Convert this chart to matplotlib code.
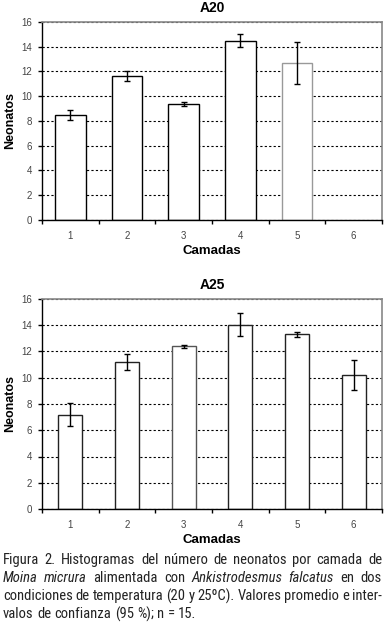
import matplotlib
matplotlib.use("Agg")
import matplotlib.pyplot as plt
from matplotlib import font_manager as fm
import numpy as np

# ---- data ----
camadas = [1, 2, 3, 4, 5, 6]
a20_vals = [8.5, 11.6, 9.35, 14.5, 12.65, 0]
a20_err = [0.42, 0.4, 0.17, 0.53, 1.7, 0]
a25_vals = [7.2, 11.2, 12.4, 14.05, 13.3, 10.2]
a25_err = [0.88, 0.6, 0.12, 0.9, 0.2, 1.13]
titles = ["A20", "A25"]
ylabel = "Neonatos"
xlabel = "Camadas"
yticks = [0, 2, 4, 6, 8, 10, 12, 14, 16]

caption_lines = [
    "Figura 2. Histogramas del número de neonatos por camada de",
    "Moina micrura alimentada con Ankistrodesmus falcatus en dos",
    "condiciones de temperatura (20 y 25ºC). Valores promedio e inter-",
    "valos de confianza (95 %); n = 15.",
]
italic_words = {"Moina", "micrura", "Ankistrodesmus", "falcatus"}

W, H = 384, 625
fig = plt.figure(figsize=(W / 100, H / 100), dpi=100)
plt.rcParams['font.family'] = ['Liberation Sans', 'DejaVu Sans']


def panel(rect, vals, errs, title, width, edgecolors):
    ax = fig.add_axes(rect)
    x = np.array(camadas)
    v = np.array(vals)
    e = np.array(errs)
    m = v > 0
    ax.bar(x[m], v[m], width=width, color='white',
           edgecolor=[c for c, k in zip(edgecolors, m) if k],
           linewidth=1.0, zorder=2)
    ax.errorbar(x[m], v[m], yerr=e[m], fmt='none',
                ecolor='black', elinewidth=1.0, capsize=2.2, capthick=1.0,
                zorder=3)
    ax.set_xlim(0.5, 6.5)
    ax.set_ylim(0, 16)
    ax.set_yticks(yticks)
    ax.set_xticks(camadas)
    ax.set_xticks(np.arange(0.5, 7.0, 1.0), minor=True)
    ax.tick_params(axis='x', which='major', length=0, pad=8,
                   labelsize=7, labelcolor='#444444')
    ax.tick_params(axis='x', which='minor', length=3, width=1, direction='out')
    ax.tick_params(axis='y', length=3, width=1, direction='out', pad=4,
                   labelsize=7, labelcolor='#444444')
    ax.yaxis.grid(True, linestyle=(0, (2, 2)), color='black', linewidth=0.8,
                  zorder=1)
    ax.set_axisbelow(True)
    for s in ['left', 'bottom']:
        ax.spines[s].set_color('black')
        ax.spines[s].set_linewidth(1.0)
    for s in ['top', 'right']:
        ax.spines[s].set_color('#888888')
        ax.spines[s].set_linewidth(1.2)
    ax.set_title(title, fontsize=10, fontweight='bold', pad=7)
    ax.set_ylabel(ylabel, fontsize=9, fontweight='bold', labelpad=4)
    ax.set_xlabel(xlabel, fontsize=9.5, fontweight='bold', labelpad=3)
    return ax


panel([42 / W, 1 - 220 / H, 340 / W, 198 / H], a20_vals, a20_err, titles[0],
      0.54, ['black', 'black', 'black', 'black', '#999999', 'black'])
panel([42 / W, 1 - 509 / H, 340 / W, 210 / H], a25_vals, a25_err, titles[1],
      0.42, ['#222222', '#222222', '#555555', '#222222', '#222222', '#222222'])


# ---- find a narrow font for the caption ----
def find_font(patterns):
    files = [f.fname for f in fm.fontManager.ttflist]
    for pat in patterns:
        for fn in files:
            base = fn.split('/')[-1]
            if base.lower() == pat.lower():
                return fn
    return None


reg = find_font(["LiberationSansNarrow-Regular.ttf", "RobotoCondensed-Regular.ttf",
                 "DejaVuSansCondensed.ttf"])
ita = find_font(["LiberationSansNarrow-Italic.ttf", "RobotoCondensed-Italic.ttf",
                 "DejaVuSansCondensed-Oblique.ttf"])
if reg is not None:
    fp_reg = fm.FontProperties(fname=reg)
    fp_ita = fm.FontProperties(fname=ita) if ita else fm.FontProperties(fname=reg)
else:
    fp_reg = fm.FontProperties(family='Liberation Sans')
    fp_ita = fm.FontProperties(family='Liberation Sans', style='italic')

renderer = fig.canvas.get_renderer()
left_px, right_px = 3, 382
line_y = [560, 578, 596, 614]


def build(fs):
    allt = []
    for li, line in enumerate(caption_lines):
        row = []
        for w in line.split(" "):
            fp = (fp_ita if w in italic_words else fp_reg).copy()
            fp.set_size(fs)
            t = fig.text(0, 1 - line_y[li] / H, w, fontproperties=fp,
                         color='#222222', va='center', ha='left')
            row.append(t)
        allt.append(row)
    fpw = fp_reg.copy()
    fpw.set_size(fs)
    a = fig.text(0, 0, "a a", fontproperties=fpw)
    b = fig.text(0, 0, "aa", fontproperties=fpw)
    sp = a.get_window_extent(renderer).width - b.get_window_extent(renderer).width
    a.remove()
    b.remove()
    return allt, sp


fs = 11.5
while True:
    rows, space = build(fs)
    need = 0
    for row in rows:
        ws = [t.get_window_extent(renderer).width for t in row]
        need = max(need, sum(ws) + 0.75 * space * (len(row) - 1))
    if need <= (right_px - left_px) or fs < 6:
        break
    for row in rows:
        for t in row:
            t.remove()
    fs -= 0.25

for li, row in enumerate(rows):
    widths = [t.get_window_extent(renderer).width for t in row]
    if li < len(rows) - 1:
        gap = (right_px - left_px - sum(widths)) / (len(row) - 1)
    else:
        gap = space
    xpos = left_px
    for t, w in zip(row, widths):
        t.set_x(xpos / W)
        xpos += w + gap

fig.savefig("out.png", dpi=100)
